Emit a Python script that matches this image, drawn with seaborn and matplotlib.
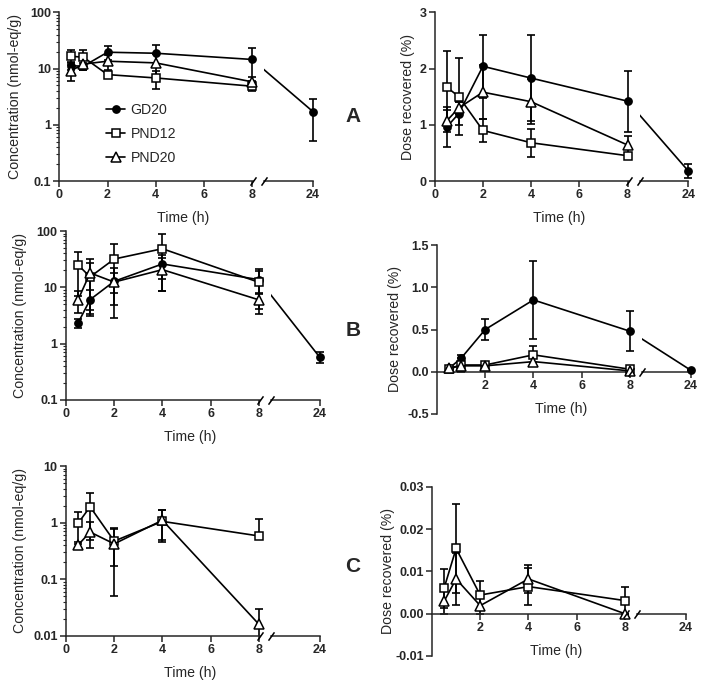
import numpy as np
import seaborn as sns
import matplotlib
matplotlib.use("Agg")
import matplotlib.pyplot as plt

# sampling times (h); 24 h sits behind the axis break
TIMES = [0.5, 1, 2, 4, 8, 24]
LABELS = ["GD20", "PND12", "PND20"]

# panel A - concentration (nmol-eq/g)
A_CONC_GD20 = [11.2, 11.0, 19.5, 18.7, 14.5, 1.72]
A_CONC_GD20_SD = [1.8, 1.7, 5.4, 7.7, 8.5, 1.2]
A_CONC_PND12 = [16.5, 15.9, 7.8, 6.8, 4.85]
A_CONC_PND12_SD = [5.0, 5.6, 1.0, 2.4, 0.9]
A_CONC_PND20 = [9.2, 12.0, 13.5, 12.6, 5.8]
A_CONC_PND20_SD = [3.1, 2.5, 4.0, 5.5, 1.2]

# panel A - dose recovered (%)
A_DOSE_GD20 = [0.96, 1.2, 2.04, 1.83, 1.42, 0.18]
A_DOSE_GD20_SD = [0.36, 0.2, 0.56, 0.77, 0.54, 0.13]
A_DOSE_PND12 = [1.67, 1.5, 0.9, 0.68, 0.45]
A_DOSE_PND12_SD = [0.64, 0.69, 0.2, 0.25, 0.04]
A_DOSE_PND20 = [1.07, 1.3, 1.58, 1.41, 0.64]
A_DOSE_PND20_SD = [0.2, 0.1, 0.48, 0.4, 0.16]

# panel B - concentration
B_CONC_GD20 = [2.33, 6.05, 12.8, 26.0, 13.7, 0.58]
B_CONC_GD20_SD = [0.45, 3.0, 5.0, 12.0, 6.0, 0.12]
B_CONC_PND12 = [25.0, 15.3, 31.8, 48.5, 12.3]
B_CONC_PND12_SD = [18.0, 12.0, 27.0, 40.0, 9.0]
B_CONC_PND20 = [6.0, 18.0, 12.4, 20.6, 6.0]
B_CONC_PND20_SD = [2.5, 14.0, 9.5, 12.0, 1.8]

# panel B - dose recovered
B_DOSE_GD20 = [0.04, 0.16, 0.5, 0.85, 0.48, 0.02]
B_DOSE_GD20_SD = [0.02, 0.04, 0.12, 0.46, 0.24, 0.005]
B_DOSE_PND12 = [0.03, 0.08, 0.08, 0.2, 0.03]
B_DOSE_PND12_SD = [0.02, 0.08, 0.03, 0.1, 0.01]
B_DOSE_PND20 = [0.05, 0.07, 0.07, 0.12, 0.01]
B_DOSE_PND20_SD = [0.02, 0.03, 0.03, 0.05, 0.01]

# panel C - concentration
C_CONC_PND12 = [0.97, 1.9, 0.47, 1.05, 0.58]
C_CONC_PND12_SD = [0.55, 1.4, 0.3, 0.6, 0.6]
C_CONC_PND20 = [0.4, 0.68, 0.42, 1.1, 0.016]
C_CONC_PND20_SD = [0.05, 0.33, 0.37, 0.6, 0.014]

# panel C - dose recovered
C_DOSE_PND12 = [0.006, 0.0154, 0.0044, 0.0064, 0.0031]
C_DOSE_PND12_SD = [0.0046, 0.0106, 0.0034, 0.0044, 0.0032]
C_DOSE_PND20 = [0.0029, 0.0082, 0.0019, 0.0082, 0.0]
C_DOSE_PND20_SD = [0.003, 0.0062, 0.002, 0.0034, 0.0]

W, H = 704, 688
UNIT = 24.1          # pixels per hour on the 0-8 segment
POS24 = 10.52        # where 24 h lands on the broken axis
MAIN_MAX, TAIL_MIN, TAIL_MAX = 8.3, 8.5, 10.75
TICK_FS, LABEL_FS = 9, 10.2

STYLE = {
    "GD20": dict(marker="o", markersize=5.2, markerfacecolor="black"),
    "PND12": dict(marker="s", markersize=6.3, markerfacecolor="white"),
    "PND20": dict(marker="^", markersize=6.5, markerfacecolor="white"),
}


def to_pos(t):
    t = np.asarray(t, dtype=float)
    return np.where(t <= 8, t, 8 + (t - 8) * (POS24 - 8) / 16)


def draw_series(ax, label, mean, sd, log, tail=False, legend_label=None):
    t = np.array(TIMES[:len(mean)])
    mean = np.array(mean)
    sd = np.array(sd)
    keep = t >= 8 if tail else t <= 8
    if tail and keep.sum() < 2:
        return
    x = to_pos(t[keep])
    lower = sd[keep]
    if log:
        # a bar that would go below zero is not drawn on the log axis
        lower = np.where(mean[keep] - lower > 0, lower, 0)
    ax.errorbar(x, mean[keep], yerr=[lower, sd[keep]], fmt="none", ecolor="black",
                elinewidth=1.2, capsize=3, capthick=1.2, zorder=2)
    sns.lineplot(x=x, y=mean[keep], ax=ax, color="black", linewidth=1.2,
                 markeredgecolor="black", markeredgewidth=1.1,
                 label=legend_label, legend=False, zorder=3, **STYLE[label])


def slash(ax, x, y):
    ax.plot([x], [y], marker=[(-1, -1.4), (1, 1.4)], markersize=6,
            color="black", markeredgewidth=1.1, linestyle="none",
            clip_on=False, zorder=5)


def panel(x0, ytop, ybot, series, ylim, log, yticks, yticklabels,
          ylabel, ylabel_x, axis_y=None, zero_tick=True, legend=False):
    hpx = ybot - ytop
    main = plt.gcf().add_axes([x0 / W, 1 - ybot / H, MAIN_MAX * UNIT / W, hpx / H])
    tail = plt.gcf().add_axes([(x0 + TAIL_MIN * UNIT) / W, 1 - ybot / H,
                               (TAIL_MAX - TAIL_MIN) * UNIT / W, hpx / H])
    for ax in (main, tail):
        if log:
            ax.set_yscale("log")
        ax.set_ylim(*ylim)
        for s in ("top", "right"):
            ax.spines[s].set_visible(False)
        if axis_y is not None:
            ax.spines["bottom"].set_position(("data", axis_y))
        ax.tick_params(axis="both", which="major", length=4, width=1.1,
                       labelsize=TICK_FS, direction="out", pad=2)
        ax.tick_params(axis="y", which="minor", length=2, width=0.8)
    ybase = ylim[0] if axis_y is None else axis_y

    for name, mean, sd in series:
        draw_series(main, name, mean, sd, log,
                    legend_label=name if legend else None)
        draw_series(tail, name, mean, sd, log, tail=True)

    main.set_xlim(0, MAIN_MAX)
    main.spines["bottom"].set_bounds(0, 8.05)
    main.set_xticks([0, 2, 4, 6, 8] if zero_tick else [2, 4, 6, 8])
    main.set_yticks(yticks)
    main.set_yticklabels(yticklabels)
    main.set_ylabel(ylabel, fontsize=LABEL_FS)
    # label anchor is its right edge once rotated
    main.yaxis.set_label_coords((ylabel_x + 7 - x0) / (MAIN_MAX * UNIT), 0.5)
    for lab in main.get_xticklabels() + main.get_yticklabels():
        lab.set_fontweight("bold")

    tail.set_xlim(TAIL_MIN, TAIL_MAX)
    tail.spines["left"].set_visible(False)
    tail.spines["bottom"].set_bounds(TAIL_MIN, POS24)
    tail.set_xticks([POS24])
    tail.set_xticklabels(["24"], fontweight="bold")
    tail.tick_params(axis="y", which="both", left=False, labelleft=False)

    slash(main, 8.05, ybase)
    slash(tail, TAIL_MIN, ybase)

    if axis_y is None:
        ax_px = ybot
    else:
        ax_px = ytop + hpx * (ylim[1] - axis_y) / (ylim[1] - ylim[0])
    plt.gcf().text((x0 + 5.15 * UNIT) / W, 1 - (ax_px + 37) / H, "Time (h)",
                   fontsize=LABEL_FS, ha="center", va="center")

    if legend:
        main.legend(loc="upper left", bbox_to_anchor=(0.235, 0.465), frameon=False,
                    fontsize=LABEL_FS, handlelength=1.3, handletextpad=0.4,
                    labelspacing=0.72, borderaxespad=0, borderpad=0)
    return main


sns.set_style("ticks")
plt.rcParams["font.family"] = ["Liberation Sans", "DejaVu Sans"]
plt.rcParams["axes.linewidth"] = 1.1

fig = plt.figure(figsize=(W / 100, H / 100), dpi=100)

conc_label = "Concentration (nmol-eq/g)"
dose_label = "Dose recovered (%)"
log_ticks = [0.01, 0.1, 1, 10, 100]
log_labels = ["0.01", "0.1", "1", "10", "100"]

panel(59.3, 12.3, 181, [("GD20", A_CONC_GD20, A_CONC_GD20_SD),
                        ("PND12", A_CONC_PND12, A_CONC_PND12_SD),
                        ("PND20", A_CONC_PND20, A_CONC_PND20_SD)],
      (0.1, 100), True, log_ticks[1:], log_labels[1:], conc_label, 15,
      legend=True)
panel(434.7, 12.3, 181, [("GD20", A_DOSE_GD20, A_DOSE_GD20_SD),
                         ("PND12", A_DOSE_PND12, A_DOSE_PND12_SD),
                         ("PND20", A_DOSE_PND20, A_DOSE_PND20_SD)],
      (0, 3), False, [0, 1, 2, 3], ["0", "1", "2", "3"], dose_label, 408)

panel(66, 231, 400, [("GD20", B_CONC_GD20, B_CONC_GD20_SD),
                     ("PND12", B_CONC_PND12, B_CONC_PND12_SD),
                     ("PND20", B_CONC_PND20, B_CONC_PND20_SD)],
      (0.1, 100), True, log_ticks[1:], log_labels[1:], conc_label, 20)
panel(437, 245, 414, [("GD20", B_DOSE_GD20, B_DOSE_GD20_SD),
                      ("PND12", B_DOSE_PND12, B_DOSE_PND12_SD),
                      ("PND20", B_DOSE_PND20, B_DOSE_PND20_SD)],
      (-0.5, 1.5), False, [-0.5, 0, 0.5, 1.0, 1.5],
      ["-0.5", "0.0", "0.5", "1.0", "1.5"], dose_label, 395,
      axis_y=0, zero_tick=False)

panel(66, 466, 635.7, [("PND12", C_CONC_PND12, C_CONC_PND12_SD),
                       ("PND20", C_CONC_PND20, C_CONC_PND20_SD)],
      (0.01, 10), True, log_ticks[:4], log_labels[:4], conc_label, 20)
panel(432, 486.7, 656, [("PND12", C_DOSE_PND12, C_DOSE_PND12_SD),
                        ("PND20", C_DOSE_PND20, C_DOSE_PND20_SD)],
      (-0.01, 0.03), False, [-0.01, 0, 0.01, 0.02, 0.03],
      ["-0.01", "0.00", "0.01", "0.02", "0.03"], dose_label, 388,
      axis_y=0, zero_tick=False)

for letter, yy in [("A", 116), ("B", 330), ("C", 567)]:
    fig.text(353 / W, 1 - yy / H, letter, fontsize=15, fontweight="bold",
             ha="center", va="center")

fig.savefig("out.png", dpi=100)
